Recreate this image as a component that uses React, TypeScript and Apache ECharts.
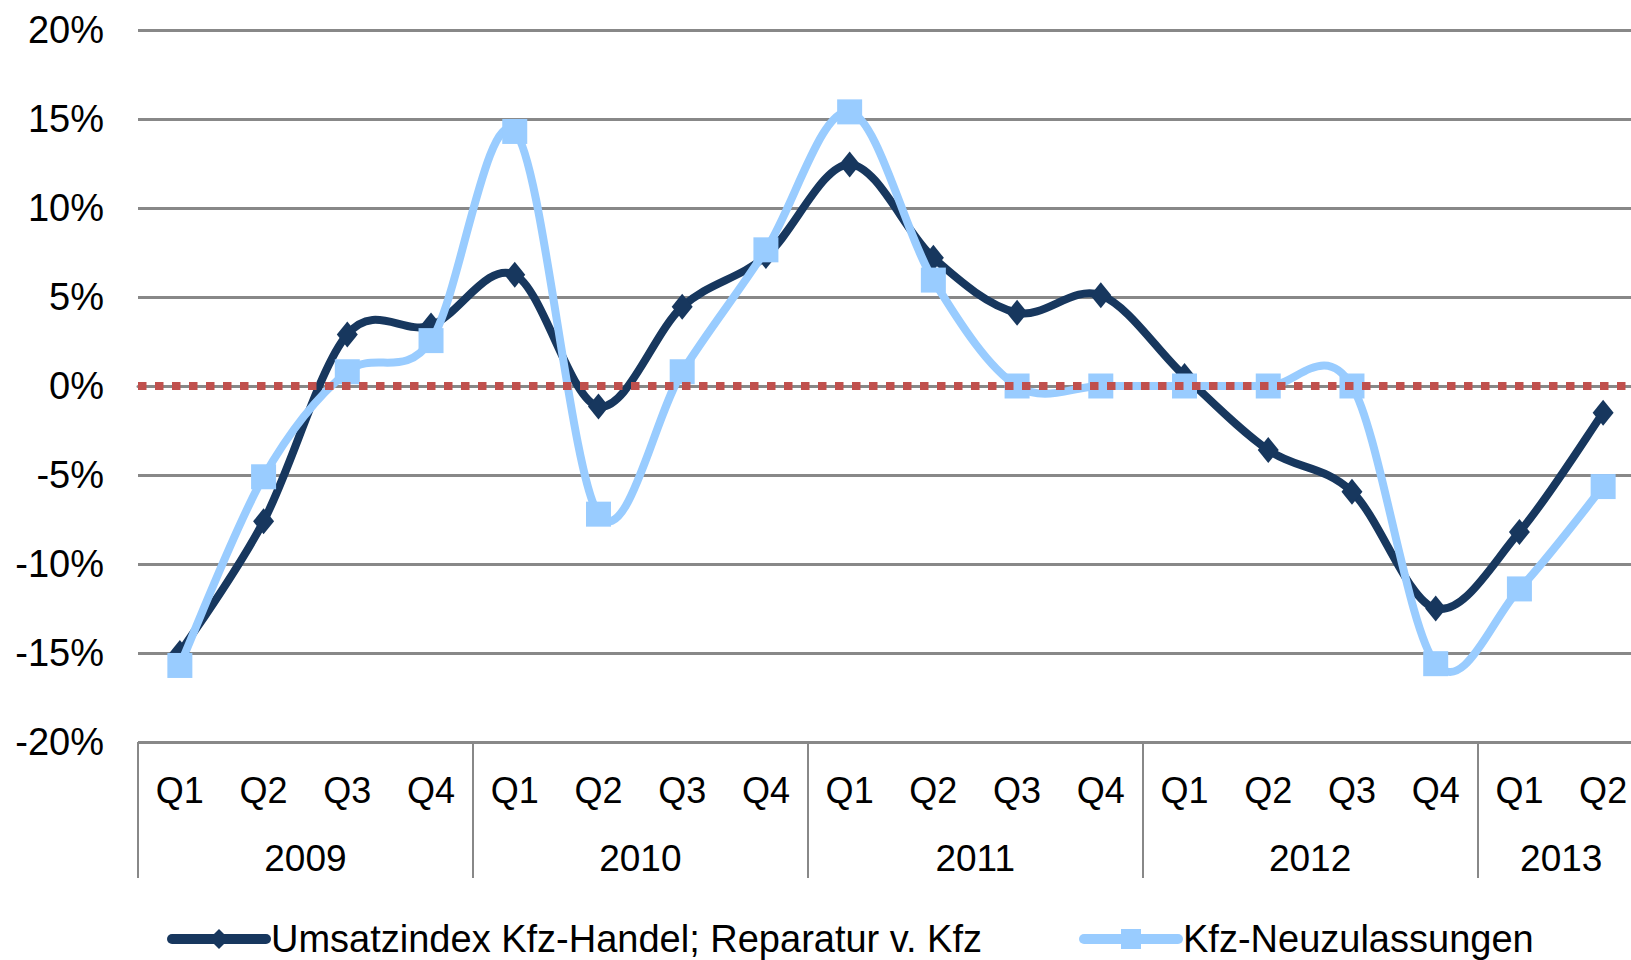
import React, { useEffect, useRef } from "react";
import * as echarts from "echarts";

const quarters = [
  "Q1", "Q2", "Q3", "Q4",
  "Q1", "Q2", "Q3", "Q4",
  "Q1", "Q2", "Q3", "Q4",
  "Q1", "Q2", "Q3", "Q4",
  "Q1", "Q2",
];
const years = ["2009", "2010", "2011", "2012", "2013"];
const quartersPerYear = [4, 4, 4, 4, 2];

const umsatzName = "Umsatzindex Kfz-Handel; Reparatur v. Kfz";
const umsatzValues = [
  -15.0, -7.6, 2.9, 3.4, 6.25, -1.15, 4.45, 7.3, 12.45, 7.2, 4.12, 5.1,
  0.56, -3.6, -5.94, -12.5, -8.2, -1.5,
];
const neuName = "Kfz-Neuzulassungen";
const neuValues = [
  -15.7, -5.1, 0.8, 2.55, 14.3, -7.2, 0.8, 7.65, 15.4, 5.95, 0, 0, 0, 0, 0,
  -15.6, -11.4, -5.65,
];
const zeroLineValue = 0;
const yTicks = { min: -20, max: 20, interval: 5 };

const FONT = "'Liberation Sans', Arial, sans-serif";
const DARK = "#17375E";
const LIGHT = "#99CCFF";
const RED = "#C0504D";
const GRID = "#888888";

// Excel-like smoothed segment (Catmull-Rom in pixel space) from point i to i+1
function smoothSegment(values: number[], color: string, width: number) {
  return (params: any, api: any) => {
    const i = params.dataIndex;
    const n = values.length;
    if (i >= n - 1) return null;
    const pt = (j: number) => {
      const k = Math.max(0, Math.min(n - 1, j));
      return api.coord([k, values[k]]);
    };
    const p0 = pt(i - 1);
    const p1 = pt(i);
    const p2 = pt(i + 1);
    const p3 = pt(i + 2);
    const t = 1 / 6;
    return {
      type: "bezierCurve",
      shape: {
        x1: p1[0],
        y1: p1[1],
        x2: p2[0],
        y2: p2[1],
        cpx1: p1[0] + (p2[0] - p0[0]) * t,
        cpy1: p1[1] + (p2[1] - p0[1]) * t,
        cpx2: p2[0] - (p3[0] - p1[0]) * t,
        cpy2: p2[1] - (p3[1] - p1[1]) * t,
      },
      style: { stroke: color, lineWidth: width, fill: "none", lineCap: "round" },
    };
  };
}

export default function App() {
  const ref = useRef<HTMLDivElement>(null);
  useEffect(() => {
    if (!ref.current) return;
    const chart = echarts.init(ref.current, undefined, { renderer: "svg" });

    // boundary axis: one slot per quarter boundary
    const boundaryData: string[] = [];
    const tickIdx = new Set<number>();
    const labelIdx = new Set<number>();
    let pos = 0;
    for (let i = 0; i <= quarters.length; i++) boundaryData.push("");
    years.forEach((y, i) => {
      tickIdx.add(pos);
      const mid = pos + quartersPerYear[i] / 2;
      boundaryData[mid] = y;
      labelIdx.add(mid);
      pos += quartersPerYear[i];
    });

    chart.setOption({
      animation: false,
      textStyle: { fontFamily: FONT },
      grid: { left: 138, top: 30, bottom: 218, right: 15 },
      legend: {
        left: 162,
        top: 915,
        itemWidth: 94,
        itemHeight: 25,
        itemGap: 97,
        textStyle: { fontSize: 38, color: "#000", fontFamily: FONT },
        data: [
          {
            name: umsatzName,
            lineStyle: { color: DARK, width: 10, cap: "round", opacity: 1 },
          },
          {
            name: neuName,
            lineStyle: { color: LIGHT, width: 10, cap: "round", opacity: 1 },
          },
        ],
      },
      xAxis: [
        {
          type: "category",
          data: quarters,
          boundaryGap: true,
          axisLine: { lineStyle: { color: GRID, width: 3 } },
          axisTick: { show: false },
          axisLabel: {
            interval: 0,
            fontSize: 36,
            color: "#000",
            margin: 30,
            fontFamily: FONT,
          },
        },
        {
          type: "category",
          data: boundaryData,
          boundaryGap: false,
          position: "bottom",
          axisLine: { show: false },
          axisTick: {
            show: true,
            length: 136,
            interval: (i: number) => tickIdx.has(i),
            lineStyle: { color: GRID, width: 2 },
          },
          axisLabel: {
            interval: (i: number) => labelIdx.has(i),
            fontSize: 37,
            color: "#000",
            margin: 98,
            fontFamily: FONT,
          },
          splitLine: { show: false },
        },
      ],
      yAxis: {
        type: "value",
        min: yTicks.min,
        max: yTicks.max,
        interval: yTicks.interval,
        axisLine: { show: false },
        axisTick: { show: false },
        axisLabel: {
          formatter: "{value}%",
          fontSize: 38,
          color: "#000",
          margin: 34,
          fontFamily: FONT,
        },
        splitLine: { lineStyle: { color: GRID, width: 3 } },
      },
      series: [
        {
          name: umsatzName + " (Kurve)",
          type: "custom",
          data: umsatzValues.map((v, i) => [i, v]),
          encode: { x: 0, y: 1 },
          renderItem: smoothSegment(umsatzValues, DARK, 8),
          silent: true,
          z: 1,
        },
        {
          name: umsatzName,
          type: "line",
          data: umsatzValues,
          symbol: "diamond",
          symbolSize: [21, 26],
          lineStyle: { width: 0, opacity: 0 },
          itemStyle: { color: DARK },
          z: 2,
        },
        {
          name: neuName + " (Kurve)",
          type: "custom",
          data: neuValues.map((v, i) => [i, v]),
          encode: { x: 0, y: 1 },
          renderItem: smoothSegment(neuValues, LIGHT, 8),
          silent: true,
          z: 3,
        },
        {
          name: neuName,
          type: "line",
          data: neuValues,
          symbol: "rect",
          symbolSize: 25,
          lineStyle: { width: 0, opacity: 0 },
          itemStyle: { color: LIGHT },
          z: 4,
        },
        {
          name: "Nulllinie",
          type: "custom",
          data: [[0, zeroLineValue]],
          encode: { x: 0, y: 1 },
          silent: true,
          z: 10,
          renderItem: (params: any, api: any) => {
            const cs = params.coordSys;
            const y = api.coord([0, api.value(1)])[1];
            return {
              type: "line",
              shape: { x1: cs.x, y1: y, x2: cs.x + cs.width, y2: y },
              style: {
                stroke: RED,
                lineWidth: 8,
                lineDash: [8.5, 8.5],
                lineCap: "butt",
              },
            };
          },
        },
      ],
    });
    return () => chart.dispose();
  }, []);

  return (
    <div
      style={{
        position: "fixed",
        left: 0,
        top: 0,
        width: 1631,
        height: 960,
        overflow: "hidden",
        background: "#fff",
      }}
    >
      <div ref={ref} style={{ width: 1660, height: 960 }} />
    </div>
  );
}
